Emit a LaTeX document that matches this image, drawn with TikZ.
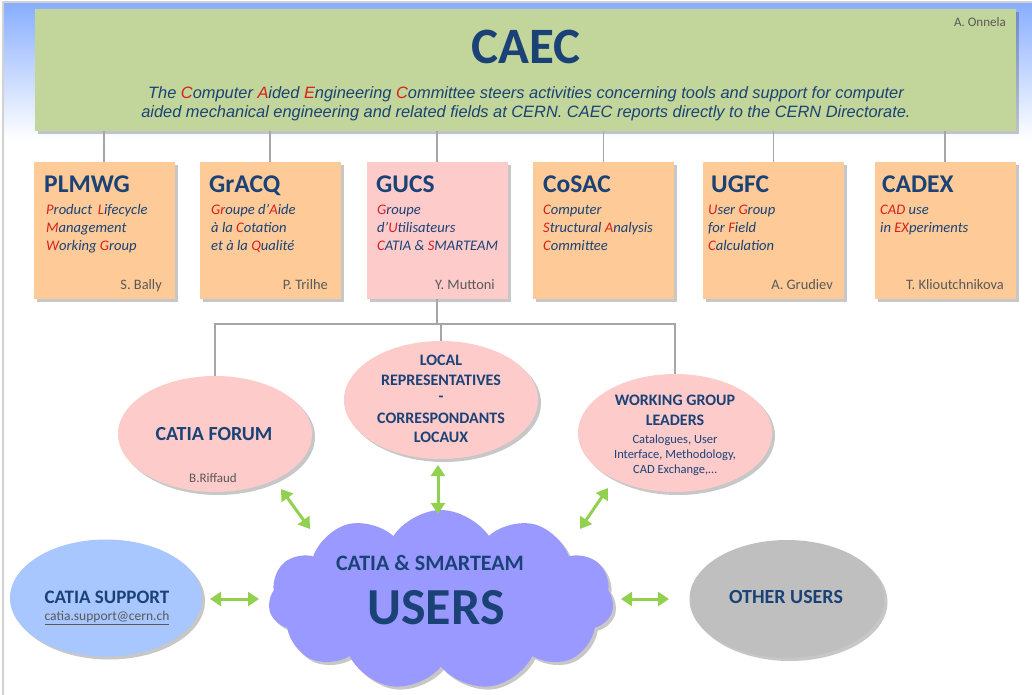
\documentclass[tikz,border=0pt]{standalone}
\usepackage{fontspec}
\setmainfont{Carlito}
\newfontfamily\arialf{Liberation Sans}
\usetikzlibrary{shapes.geometric,shapes.symbols,shadows,arrows.meta,calc}
\definecolor{navy}{HTML}{1B4276}
\definecolor{initred}{HTML}{D91E1E}
\definecolor{caecgreen}{HTML}{C2D69B}
\definecolor{peach}{HTML}{FDCA98}
\definecolor{pinkf}{HTML}{FECBCB}
\definecolor{cloudblue}{HTML}{9999FF}
\definecolor{supportblue}{HTML}{A8C6FF}
\definecolor{othergray}{HTML}{BFBFBF}
\definecolor{sig}{HTML}{595959}
\definecolor{linegray}{HTML}{A6A6A6}
\definecolor{arrowgreen}{HTML}{92D050}
\definecolor{bgblue}{HTML}{88AEFF}
\newcommand{\rd}[1]{\textcolor{initred}{#1}}
\begin{document}
\begin{tikzpicture}[x=1pt,y=-1pt,
  shad/.style={drop shadow={shadow xshift=3pt,shadow yshift=-3pt,fill=black,opacity=0.22}},
  panel/.style={rectangle,inner sep=0pt,shad},
  orgbox/.style={panel,minimum width=141pt,minimum height=137pt},
  oval/.style={ellipse,inner sep=0pt,shad},
  conn/.style={draw=linegray,line width=1.4pt},
  garrow/.style={draw=arrowgreen,line width=3pt,{Triangle[length=11pt,width=14pt]}-{Triangle[length=11pt,width=14pt]}},
  ttl/.style={anchor=base west,inner sep=0pt,text=navy,font=\fontsize{25.5}{30}\selectfont\bfseries},
  sub/.style={anchor=base west,inner sep=0pt,text=navy,font=\fontsize{14.6}{17}\selectfont\itshape},
  sgn/.style={anchor=base east,inner sep=0pt,text=sig,font=\fontsize{14.4}{17}\selectfont},
  etxt/.style={inner sep=0pt,text=navy,font=\fontsize{16}{19}\selectfont\bfseries},
]
\useasboundingbox (0,0) rectangle (1032,695);
\fill[white] (0,0) rectangle (1032,695);
\shade[top color=bgblue,bottom color=white] (3,3) rectangle (1032,140);
\draw[gray!35,line width=1.2pt] (3,695) -- (3,2) -- (1032,2);

% CAEC
\node[panel,fill=caecgreen,minimum width=981pt,minimum height=122pt] (caec) at (525.5,70) {};
\node[anchor=base,inner sep=0pt,text=navy,font=\fontsize{51}{60}\selectfont\bfseries] (caect) at (526,64) {CAEC};
\node[anchor=base east,inner sep=0pt,text=sig,font=\fontsize{13}{15}\selectfont] (onnela) at (1006,27) {A. Onnela};
\node[anchor=base,inner sep=0pt,text=navy,font=\arialf\fontsize{16.4}{19}\selectfont\itshape] (d1) at (526,99)
 {The \rd{C}omputer \rd{A}ided \rd{E}ngineering \rd{C}ommittee steers activities concerning tools and support for computer};
\node[anchor=base,inner sep=0pt,text=navy,font=\arialf\fontsize{16.4}{19}\selectfont\itshape] (d2) at (526,118)
 {aided mechanical engineering and related fields at CERN. CAEC reports directly to the CERN Directorate.};

% boxes
\node[orgbox,fill=peach] (b1) at (104,230.5) {};
\node[orgbox,fill=peach] (b2) at (270,230.5) {};
\node[orgbox,fill=pinkf] (b3) at (437,230.5) {};
\node[orgbox,fill=peach] (b4) at (603.5,230.5) {};
\node[orgbox,fill=peach] (b5) at (773.5,230.5) {};
\node[orgbox,fill=peach] (b6) at (945,230.5) {};
\foreach \b in {b1,b2,b3,b4,b5,b6} \draw[conn] (caec.south -| \b.north) -- (\b.north);

\node[ttl] (t1) at (44,192) {PLMWG};
\node[sub] (s11) at (46,214) {\rd{P}roduct\, \rd{L}ifecycle};
\node[sub] (s12) at (46,232) {\rd{M}anagement};
\node[sub] (s13) at (46,250) {\rd{W}orking \rd{G}roup};
\node[sgn] (g1) at (162,289) {S. Bally};

\node[ttl] (t2) at (209,192) {GrACQ};
\node[sub] (s21) at (211,214) {\rd{Gr}oupe d’\rd{A}ide};
\node[sub] (s22) at (211,232) {à la \rd{C}otation};
\node[sub] (s23) at (211,250) {et à la \rd{Q}ualité};
\node[sgn] (g2) at (328,289) {P. Trilhe};

\node[ttl] (t3) at (376,192) {GUCS};
\node[sub] (s31) at (377,214) {\rd{G}roupe};
\node[sub] (s32) at (377,232) {d’\rd{U}tilisateurs};
\node[sub] (s33) at (377,250) {\rd{C}ATIA \& \rd{S}MARTEAM};
\node[sgn] (g3) at (495,289) {Y. Muttoni};

\node[ttl] (t4) at (543,192) {CoSAC};
\node[sub] (s41) at (543,214) {\rd{C}omputer};
\node[sub] (s42) at (543,232) {\rd{S}tructural \rd{A}nalysis};
\node[sub] (s43) at (543,250) {\rd{C}ommittee};

\node[ttl] (t5) at (711,192) {UGFC};
\node[sub] (s51) at (708,214) {\rd{U}ser \rd{G}roup};
\node[sub] (s52) at (708,232) {for \rd{F}ield};
\node[sub] (s53) at (708,250) {\rd{C}alculation};
\node[sgn] (g5) at (833,289) {A. Grudiev};

\node[ttl] (t6) at (882,192) {CADEX};
\node[sub] (s61) at (880,214) {\rd{CAD} use};
\node[sub] (s62) at (880,232) {in \rd{EX}periments};
\node[sgn] (g6) at (1004,289) {T. Klioutchnikova};

% ellipses
\node[oval,fill=pinkf,minimum width=194pt,minimum height=116pt] (forum) at (215,434) {};
\node[oval,fill=pinkf,minimum width=194pt,minimum height=118pt] (local) at (441,400) {};
\node[oval,fill=pinkf,minimum width=194pt,minimum height=118pt] (wgl) at (675,433) {};
\coordinate (hub) at (437,324);
\draw[conn] (b3.south) -- (hub) -- (hub -| local.north) -- (local.north);
\draw[conn] (forum.north) |- (hub) -| (wgl.north);

\node[inner sep=0pt,text=navy,font=\fontsize{20}{24}\selectfont\bfseries] (forumt) at (214,434) {CATIA FORUM};
\node[inner sep=0pt,text=sig,font=\fontsize{13}{15}\selectfont] (riff) at (213,478) {B.Riffaud};

\node[etxt] (l1) at (441,360) {LOCAL};
\node[etxt] (l2) at (441,380) {REPRESENTATIVES};
\node[etxt] (l3) at (441,399) {-};
\node[etxt] (l4) at (441,418) {CORRESPONDANTS};
\node[etxt] (l5) at (441,437) {LOCAUX};

\node[etxt] (w1) at (675,400) {WORKING GROUP};
\node[etxt] (w2) at (675,420) {LEADERS};
\node[inner sep=0pt,text=navy,font=\fontsize{12.5}{15}\selectfont] (w3) at (675,440) {Catalogues, User};
\node[inner sep=0pt,text=navy,font=\fontsize{12.5}{15}\selectfont] (w4) at (675,455) {Interface, Methodology,};
\node[inner sep=0pt,text=navy,font=\fontsize{12.5}{15}\selectfont] (w5) at (675,470) {CAD Exchange,…};

% bottom row
\node[oval,fill=supportblue,minimum width=192pt,minimum height=117pt] (support) at (106,598) {};
\node[oval,fill=othergray,minimum width=195pt,minimum height=118pt] (others) at (787,599) {};
\node[cloud,cloud puffs=11,cloud puff arc=115,aspect=1.9,fill=cloudblue,inner sep=0pt,
      minimum width=345pt,minimum height=180pt,shad] (users) at (441,600) {};

\node[inner sep=0pt,text=navy,font=\fontsize{19}{23}\selectfont\bfseries] (supt) at (107,597) {CATIA SUPPORT};
\node[inner sep=0pt,text=sig,font=\fontsize{13.5}{16}\selectfont] (mail) at (107,618) {\underline{catia.support@cern.ch}};
\node[inner sep=0pt,text=navy,font=\fontsize{20}{24}\selectfont\bfseries] (otht) at (786,597) {OTHER USERS};
\node[inner sep=0pt,text=navy,font=\fontsize{22}{26}\selectfont\bfseries] (cs) at (430,563) {CATIA \& SMARTEAM};
\node[inner sep=0pt,text=navy,font=\fontsize{52}{60}\selectfont\bfseries] (ust) at (436,608) {USERS};

% arrows
\coordinate (a1s) at (281,489); \coordinate (a1e) at (310,529);
\coordinate (a2s) at (438,465); \coordinate (a2e) at (438,514);
\coordinate (a3s) at (608,488); \coordinate (a3e) at (580,529);
\coordinate (a4s) at (210,599); \coordinate (a4e) at (259,599);
\coordinate (a5s) at (621,599); \coordinate (a5e) at (669,599);
\draw[garrow] (a1s) -- (a1e);
\draw[garrow] (a2s) -- (a2e);
\draw[garrow] (a3s) -- (a3e);
\draw[garrow] (a4s) -- (a4e);
\draw[garrow] (a5s) -- (a5e);
\end{tikzpicture}
\end{document}
